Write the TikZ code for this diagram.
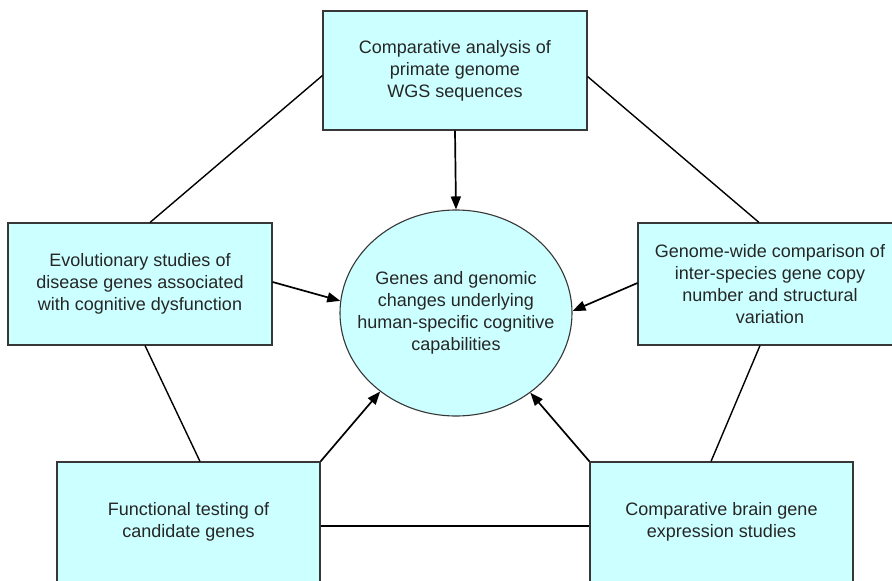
\documentclass[tikz,border=0pt]{standalone}
\usepackage{fontspec}
\setmainfont{Liberation Sans}
\usetikzlibrary{arrows.meta,shapes.geometric}
\definecolor{boxfill}{RGB}{204,255,255}
\definecolor{boxline}{RGB}{55,55,55}
\begin{document}
\begin{tikzpicture}[x=1pt,y=-1pt,
  txt/.style={align=center,font=\fontsize{18}{22}\selectfont,text=black!85},
  box/.style={draw=boxline,line width=1.1pt,fill=boxfill,inner sep=0pt,txt},
  conn/.style={draw=black,line width=1.4pt},
  arr/.style={draw=black,line width=1.7pt,-{Triangle[length=13pt,width=10pt]}}]
\useasboundingbox (0,0) rectangle (892,581);
\fill[white] (0,0) rectangle (892,581);
\node[box,minimum width=264pt,minimum height=119pt] (top) at (455,70.5)
  {Comparative analysis of\\primate genome\\WGS sequences};
\node[box,minimum width=264pt,minimum height=122pt] (left) at (140,284)
  {Evolutionary studies of\\disease genes associated\\with cognitive dysfunction};
\node[box,minimum width=264pt,minimum height=122pt] (right) at (770,284)
  {Genome-wide comparison of\\inter-species gene copy\\number and structural\\variation};
\node[box,minimum width=263pt,minimum height=120pt] (bl) at (188.5,522)
  {Functional testing of\\candidate genes};
\node[box,minimum width=263pt,minimum height=120pt] (br) at (721.5,522)
  {Comparative brain gene\\expression studies};
\node[ellipse,draw=boxline,line width=1.1pt,fill=boxfill,inner sep=0pt,
  minimum width=232pt,minimum height=206pt,
  label={[txt]center:{Genes and genomic\\changes underlying\\human-specific cognitive\\capabilities}}] (c) at (456,313) {};
% connectors
\draw[conn] ([yshift=-5pt]top.west) -- ([xshift=10pt]left.north);
\draw[conn] ([yshift=-6pt]top.east) -- ([xshift=-11pt]right.north);
\draw[conn] ([xshift=5pt]left.south) -- ([xshift=11.5pt]bl.north);
\draw[conn] ([xshift=-10pt]right.south) -- ([xshift=-10.5pt]br.north);
\draw[conn] ([yshift=-4pt]bl.east) -- ([yshift=-4pt]br.west);
% arrows
\draw[arr] (top.south) -- (c.north);
\draw[arr] ([yshift=2pt]left.east) -- (c.174.6);
\draw[arr] ([yshift=1pt]right.west) -- (c.1.5);
\draw[arr] (bl.north east) -- (c.226.5);
\draw[arr] (br.north west) -- (c.313.5);
\end{tikzpicture}
\end{document}
